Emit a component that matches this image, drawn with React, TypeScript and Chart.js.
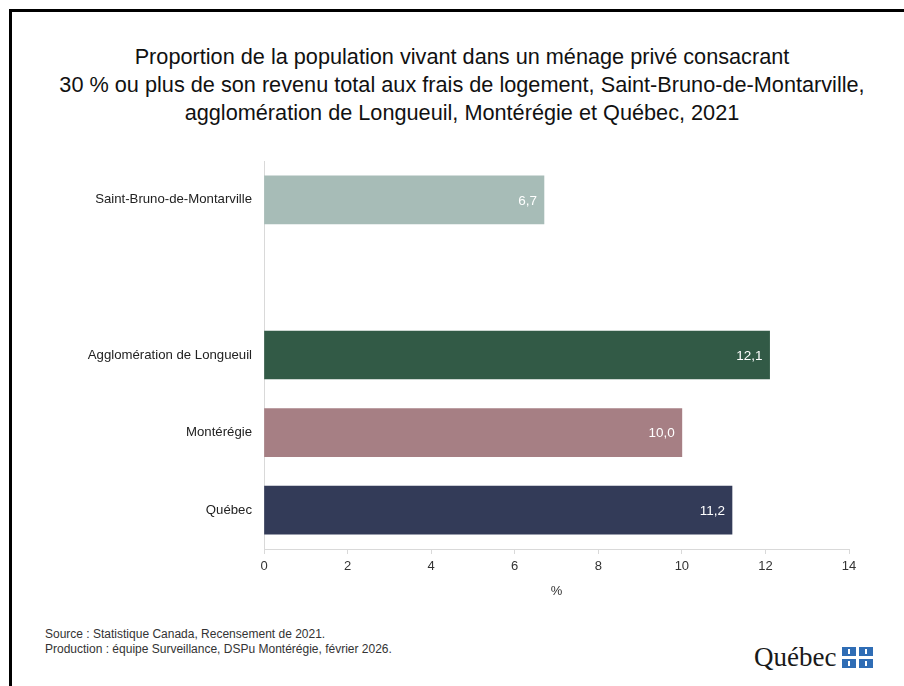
import React, { useEffect, useRef } from "react";
import { Chart, registerables } from "chart.js";

Chart.register(...registerables);

const categories = [
  "Saint-Bruno-de-Montarville",
  "",
  "Agglomération de Longueuil",
  "Montérégie",
  "Québec",
];
const values: (number | null)[] = [6.7, null, 12.1, 10.0, 11.2];
const barColors = ["#a7bcb7", "#ffffff", "#325a46", "#a67f84", "#333b58"];
const xTicks = [0, 2, 4, 6, 8, 10, 12, 14];

const titleLines = [
  "Proportion de la population vivant dans un ménage privé consacrant",
  "30 % ou plus de son revenu total aux frais de logement, Saint-Bruno-de-Montarville,",
  "agglomération de Longueuil, Montérégie et Québec, 2021",
];
const footerLines = [
  "Source : Statistique Canada, Recensement de 2021.",
  "Production : équipe Surveillance, DSPu Montérégie, février 2026.",
];

const FONT = "'Liberation Sans', Arial, sans-serif";

const valueLabels = {
  id: "valueLabels",
  afterDatasetsDraw(chart: any) {
    const ctx = chart.ctx;
    const meta = chart.getDatasetMeta(0);
    ctx.save();
    ctx.font = `13.5px ${FONT}`;
    ctx.fillStyle = "#ffffff";
    ctx.textAlign = "right";
    ctx.textBaseline = "middle";
    meta.data.forEach((el: any, i: number) => {
      const v = values[i];
      if (v === null || v === undefined) return;
      ctx.fillText(v.toFixed(1).replace(".", ","), el.x - 7, el.y + 1);
    });
    ctx.restore();
  },
};

function ChartCanvas() {
  const ref = useRef<HTMLCanvasElement | null>(null);
  useEffect(() => {
    if (!ref.current) return;
    const chart = new Chart(ref.current, {
      type: "bar",
      data: {
        labels: categories,
        datasets: [
          {
            data: values as any,
            backgroundColor: barColors,
            borderWidth: 0,
            barThickness: 48,
          },
        ],
      },
      plugins: [valueLabels],
      options: {
        indexAxis: "y",
        responsive: false,
        animation: false,
        devicePixelRatio: 1,
        layout: { padding: { left: 0, top: 11, right: 55, bottom: 0 } },
        plugins: {
          legend: { display: false },
          tooltip: { enabled: false },
          title: { display: false },
        },
        scales: {
          x: {
            type: "linear",
            min: 0,
            max: 14,
            afterBuildTicks(scale: any) {
              scale.ticks = xTicks.map((v) => ({ value: v }));
            },
            afterFit(scale: any) {
              scale.height = 61;
              scale.paddingLeft = 0;
              scale.paddingRight = 0;
            },
            grid: {
              drawOnChartArea: false,
              drawTicks: true,
              tickLength: 5,
              color: "#d9d9d9",
            },
            border: { display: true, color: "#d9d9d9", width: 1 },
            ticks: {
              font: { family: FONT, size: 13 },
              color: "#333333",
              padding: 5,
              maxRotation: 0,
            },
            title: {
              display: true,
              text: "%",
              font: { family: FONT, size: 13 },
              color: "#333333",
              padding: { top: 0, bottom: 11 },
            },
          },
          y: {
            type: "category",
            afterFit(scale: any) {
              scale.width = 264;
              scale.paddingTop = 0;
              scale.paddingBottom = 0;
            },
            grid: { display: false, drawTicks: false },
            border: { display: true, color: "#d9d9d9", width: 1 },
            ticks: {
              font: { family: FONT, size: 13.2 },
              color: "#222222",
              padding: 12,
            },
          },
        },
      },
    } as any);
    return () => chart.destroy();
  }, []);
  return (
    <canvas
      ref={ref}
      width={904}
      height={460}
      style={{ position: "absolute", left: 0, top: 150, width: 904, height: 460 }}
    />
  );
}

export default function App() {
  return (
    <div
      style={{
        position: "fixed",
        left: 0,
        top: 0,
        width: 904,
        height: 686,
        overflow: "hidden",
        background: "#ffffff",
      }}
    >
      <div
        style={{
          position: "absolute",
          left: 9,
          top: 9,
          width: 1100,
          height: 1100,
          border: "3px solid #000",
          boxSizing: "border-box",
        }}
      />
      <div
        style={{
          position: "absolute",
          left: 12,
          width: 900,
          top: 43,
          textAlign: "center",
          fontFamily: FONT,
          fontSize: 21.7,
          lineHeight: "28px",
          color: "#111",
          whiteSpace: "nowrap",
        }}
      >
        {titleLines.map((l, i) => (
          <div key={i}>{l}</div>
        ))}
      </div>
      <ChartCanvas />
      <div
        style={{
          position: "absolute",
          left: 45,
          top: 627,
          fontFamily: FONT,
          fontSize: 12,
          lineHeight: "15px",
          color: "#333",
          whiteSpace: "nowrap",
        }}
      >
        {footerLines.map((l, i) => (
          <div key={i}>{l}</div>
        ))}
      </div>
      <div
        style={{
          position: "absolute",
          left: 754,
          top: 641,
          display: "flex",
          alignItems: "center",
        }}
      >
        <span
          style={{
            fontFamily: "'Liberation Serif', 'DejaVu Serif', serif",
            fontSize: 27,
            lineHeight: "32px",
            color: "#1a1a1a",
          }}
        >
          Québec
        </span>
        <div
          style={{
            marginLeft: 6,
            display: "grid",
            gridTemplateColumns: "14px 14px",
            gridTemplateRows: "9px 9px",
            gap: 3,
          }}
        >
          {[0, 1, 2, 3].map((k) => (
            <div
              key={k}
              style={{
                background: "#2f6db5",
                position: "relative",
              }}
            >
              <div
                style={{
                  position: "absolute",
                  left: 6,
                  top: 2,
                  width: 2,
                  height: 5,
                  background: "#fff",
                }}
              />
            </div>
          ))}
        </div>
      </div>
    </div>
  );
}
